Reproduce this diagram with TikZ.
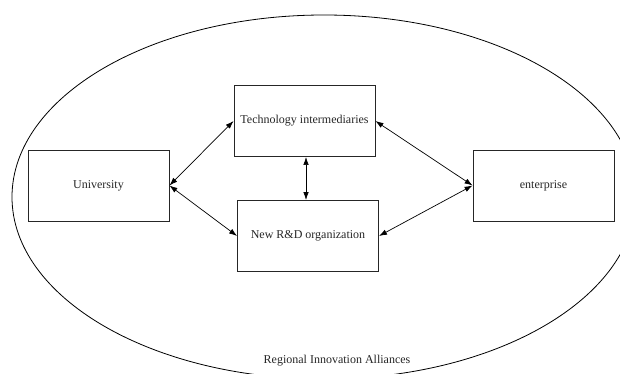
\documentclass[tikz,border=0pt]{standalone}
\usepackage{fontspec}
\setmainfont{Liberation Serif}
\usetikzlibrary{arrows.meta}
\begin{document}
\begin{tikzpicture}[x=1pt,y=-1pt,
  actor/.style={draw=black!85,line width=0.9pt,minimum width=141pt,minimum height=71pt,
    inner sep=0pt,font=\fontsize{12}{14}\selectfont,text=black!85},
  link/.style={{Latex[length=8pt,width=5.5pt]}-{Latex[length=8pt,width=5.5pt]},line width=0.7pt},
  caption/.style={font=\fontsize{12}{14}\selectfont,text=black!85,inner sep=0pt}]
\useasboundingbox (0,0) rectangle (620,374);
\begin{scope}
  \clip (0,0) rectangle (620,374);
  % the alliance boundary
  \draw[line width=0.8pt] (324,197) ellipse [x radius=312pt, y radius=182pt];
\end{scope}
\node[caption] (alliance) at (337,361) {Regional Innovation Alliances};

% members of the alliance
\node[actor] (uni) at (98.5,185.5) {University};
\node[actor] (tech) at (304.5,121) {Technology intermediaries};
\node[actor] (rd) at (308,236) {New R\&D organization};
\node[actor] (ent) at (543.5,185.5) {enterprise};

% two-way links
\draw[link] (uni.east) -- (tech.west);
\draw[link] (uni.east) -- (rd.west);
\draw[link] (tech.east) -- (ent.west);
\draw[link] (rd.east) -- (ent.west);
\draw[link] ([xshift=1.5pt]tech.south) -- ([xshift=1.5pt]tech.south |- rd.north);
\end{tikzpicture}
\end{document}
